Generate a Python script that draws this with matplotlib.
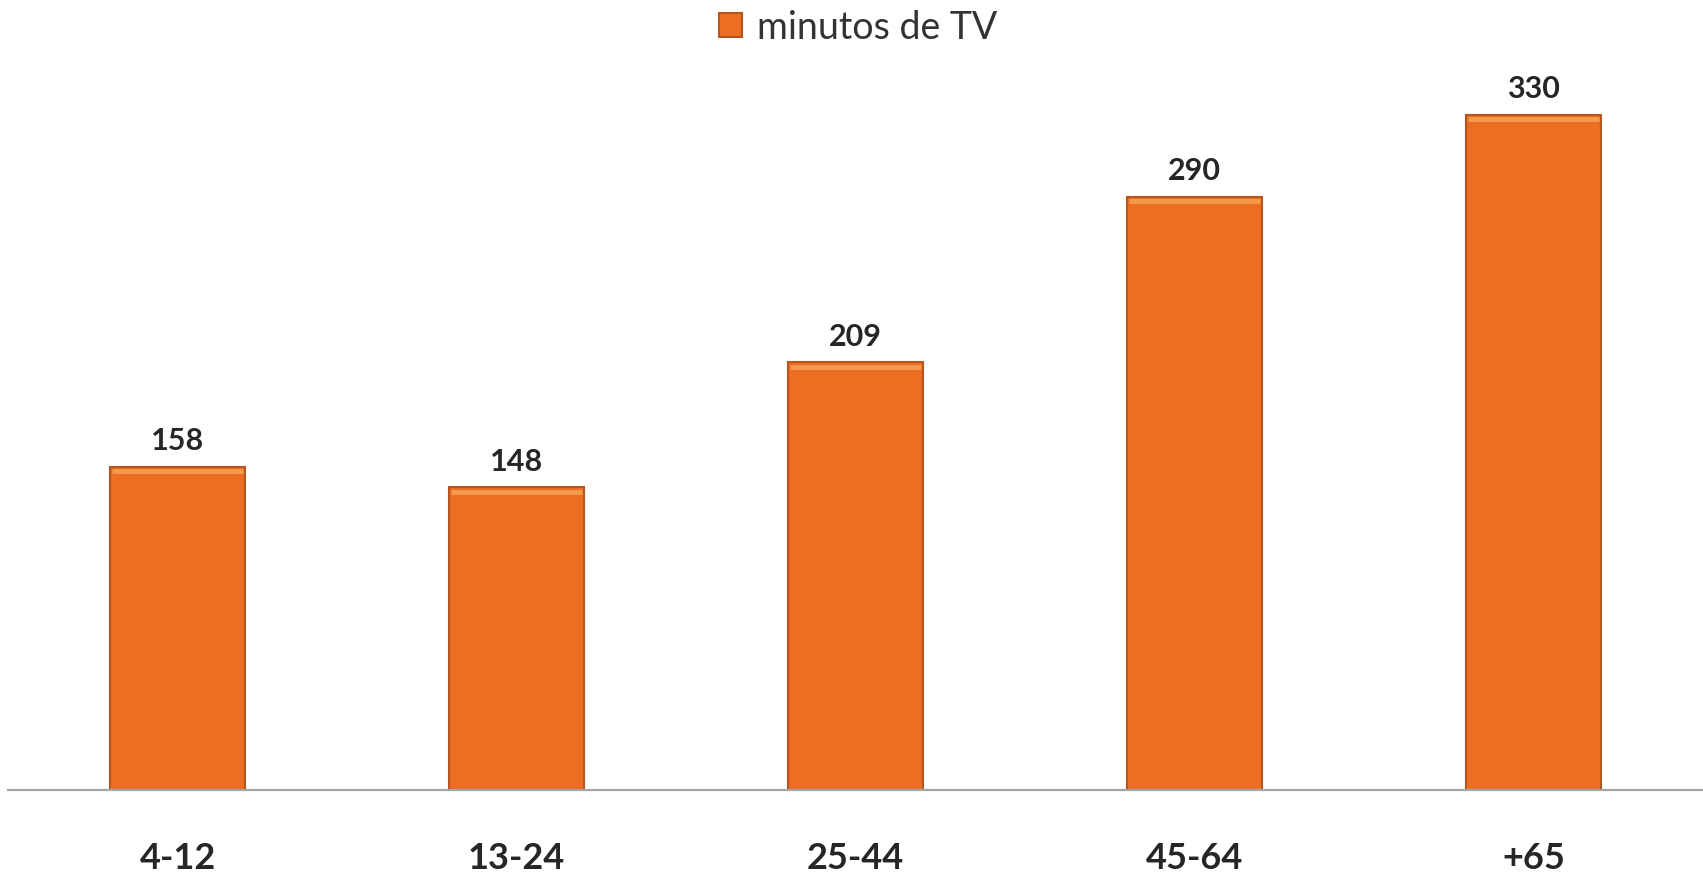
import matplotlib.pyplot as plt

# Chart data
age_groups = ['4-12', '13-24', '25-44', '45-64', '+65']
tv_minutes = [158, 148, 209, 290, 330]
series_name = 'minutos de TV'

plt.rcParams['font.family'] = ['Lato', 'DejaVu Sans']

fig = plt.figure(figsize=(17.03, 8.79), dpi=100)
ax = fig.add_axes([0.0047, 0.1001, 0.9953, 0.8544])

x = list(range(len(age_groups)))
bar_w = 0.4
bars = ax.bar(x, tv_minutes, width=bar_w, color='#ED6D23',
              edgecolor='#B5561E', linewidth=1.5, label=series_name)

# light band along the top of each bar (soft bevel look)
ax.hlines([v - 2.2 for v in tv_minutes],
          [i - bar_w / 2 + 0.008 for i in x],
          [i + bar_w / 2 - 0.008 for i in x],
          colors='#F49A4C', linewidth=3.5, zorder=3)

ax.set_xlim(-0.5, 4.5)
ax.set_ylim(0, 367)

ax.bar_label(bars, labels=[str(v) for v in tv_minutes], padding=9,
             fontsize=22, fontweight='bold', color='#262626')

ax.set_xticks(x)
ax.set_xticklabels(age_groups, fontsize=26, fontweight='bold', color='#262626')
ax.tick_params(axis='x', length=0, pad=37)
ax.set_yticks([])

for side in ['top', 'right', 'left']:
    ax.spines[side].set_visible(False)
ax.spines['bottom'].set_color('#A6A6A6')
ax.spines['bottom'].set_linewidth(1.6)

fig.legend(loc='center', bbox_to_anchor=(858 / 1703, 1 - 28 / 879),
           frameon=False, fontsize=27, handlelength=0.6, handleheight=0.6,
           handletextpad=0.4, labelcolor='#333333')

fig.savefig('out.png', dpi=100)
